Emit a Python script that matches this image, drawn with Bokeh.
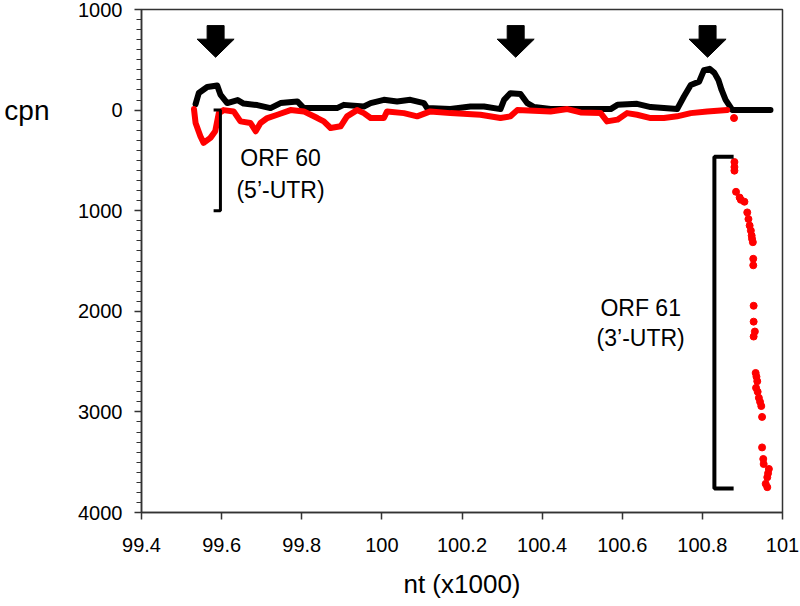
from bokeh.plotting import figure
from bokeh.models import Range1d, FixedTicker, CustomJSTickFormatter, LinearAxis
from bokeh.embed import file_html
from bokeh.resources import INLINE

# ---------------- data (nt in thousands, cpn; plotted axis is inverted:
# plus-strand coverage is stored negative so it rises above 0) ------------
black_x = [99.535, 99.543, 99.564, 99.589, 99.597, 99.614, 99.640, 99.655,
           99.689, 99.722, 99.747, 99.789, 99.805, 99.888, 99.905, 99.955,
           99.972, 100.005, 100.038, 100.071, 100.105, 100.113, 100.171,
           100.221, 100.255, 100.296, 100.305, 100.321, 100.346, 100.363,
           100.380, 100.421, 100.571, 100.588, 100.637, 100.671, 100.737,
           100.754, 100.771, 100.792, 100.804, 100.818, 100.830, 100.840,
           100.848, 100.858, 100.875, 100.970]
black_cpn = [-60, -170, -230, -245, -155, -70, -100, -65,
             -50, -20, -70, -86, -20, -20, -52, -36,
             -69, -102, -86, -102, -69, -20, -10,
             -36, -36, -10, -102, -168, -161, -69,
             -30, -10, -10, -52, -62, -30, -10,
             -135, -250, -283, -398, -410, -370, -300,
             -200, -102, 0, 0]

red_x = [99.531, 99.535, 99.547, 99.555, 99.572, 99.584, 99.593, 99.605,
         99.630, 99.647, 99.672, 99.685, 99.697, 99.714, 99.739, 99.772,
         99.805, 99.839, 99.855, 99.872, 99.897, 99.913, 99.938, 99.955,
         99.972, 100.005, 100.013, 100.055, 100.088, 100.121, 100.171,
         100.246, 100.296, 100.321, 100.338, 100.421, 100.463, 100.496,
         100.546, 100.562, 100.588, 100.612, 100.637, 100.671, 100.704,
         100.737, 100.771, 100.812, 100.862]
red_cpn = [-10, 128, 260, 326, 276, 210, 30, 0,
           13, 112, 128, 210, 128, 79, 46, 0,
           13, 79, 112, 178, 161, 62, 0, 30,
           79, 79, 13, 30, 62, 13, 30,
           46, 79, 62, 0, 13, -10, 23,
           30, 112, 95, 30, 46, 79, 79,
           62, 30, 13, 0]

tail_x = [100.879, 100.880, 100.880, 100.880, 100.884, 100.893, 100.896,
          100.905, 100.912, 100.915, 100.918, 100.921, 100.923, 100.924,
          100.926, 100.927, 100.927, 100.928, 100.928, 100.931, 100.928,
          100.933, 100.935, 100.937, 100.934, 100.938, 100.941, 100.944,
          100.947, 100.949, 100.949, 100.952, 100.953, 100.966, 100.964,
          100.962, 100.958, 100.962]
tail_cpn = [79, 516, 566, 602, 812, 869, 892,
            911, 1017, 1083, 1148, 1198, 1247, 1280,
            1313, 1478, 1543, 1945, 2103, 2201, 2251,
            2613, 2650, 2695, 2761, 2800, 2860, 2900,
            2942, 3050, 3353, 3468, 3518, 3567, 3610,
            3650, 3715, 3748]

x_ticks = [99.4, 99.6, 99.8, 100.0, 100.2, 100.4, 100.6, 100.8, 101.0]
y_ticks = [-1000, 0, 1000, 2000, 3000, 4000]
y_minor = list(range(-1000, 4001, 100))
y_title = "cpn"
y_title_at = [0]

arrow_x = [99.585, 100.334, 100.813]

# brackets (annotation positions)
orf60_bracket_x = [99.580, 99.597, 99.597, 99.580]
orf60_bracket_y = [0, 0, 1000, 1000]
orf61_bracket_x = [100.878, 100.830, 100.830, 100.878]
orf61_bracket_y = [464, 464, 3761, 3761]

FONT = "Liberation Sans"
AX = "#333333"

p = figure(width=800, height=606, x_range=Range1d(99.4, 101.0),
           y_range=Range1d(4000, -1000), output_backend="svg",
           toolbar_location=None, min_border_left=141, min_border_right=18,
           min_border_top=9, min_border_bottom=94)
p.background_fill_color = "white"
p.border_fill_color = "white"
p.xgrid.visible = False
p.ygrid.visible = False
p.outline_line_color = AX
p.outline_line_width = 1.5

# axes
xa = p.xaxis[0]
xa.ticker = FixedTicker(ticks=x_ticks)
xa.formatter = CustomJSTickFormatter(code="return (Math.round(tick*10)/10).toString();")
xa.axis_label = "nt (x1000)"
xa.axis_label_text_font = FONT
xa.axis_label_text_font_size = "26px"
xa.axis_label_text_font_style = "normal"
xa.axis_label_text_color = "black"
xa.axis_label_standoff = 14
xa.major_label_text_font = FONT
xa.major_label_text_font_size = "20px"
xa.major_label_text_color = "black"
xa.major_label_standoff = 18
xa.major_tick_out = 7
xa.major_tick_in = 0
xa.minor_tick_out = 0
xa.minor_tick_in = 0
xa.axis_line_color = AX
xa.axis_line_width = 1.5
xa.major_tick_line_color = AX
xa.major_tick_line_width = 1.5

ya = p.yaxis[0]
ya.ticker = FixedTicker(ticks=y_ticks, minor_ticks=y_minor)
ya.formatter = CustomJSTickFormatter(code="return Math.abs(tick).toString();")
ya.major_label_text_font = FONT
ya.major_label_text_font_size = "20px"
ya.major_label_text_color = "black"
ya.major_label_standoff = 12
ya.major_tick_out = 7
ya.major_tick_in = 0
ya.minor_tick_out = 5
ya.minor_tick_in = 0
ya.axis_line_color = AX
ya.axis_line_width = 1.5
ya.major_tick_line_color = AX
ya.major_tick_line_width = 1.5
ya.minor_tick_line_color = AX
ya.minor_tick_line_width = 1.2

# "cpn" title placed level with 0, to the left of the tick labels
title_axis = LinearAxis(ticker=FixedTicker(ticks=y_title_at),
                        formatter=CustomJSTickFormatter(
                            args=dict(t=y_title), code="return t;"))
title_axis.axis_line_color = None
title_axis.major_tick_line_color = None
title_axis.minor_tick_line_color = None
title_axis.major_tick_out = 0
title_axis.minor_tick_out = 0
title_axis.major_label_standoff = 26
title_axis.major_label_text_font = FONT
title_axis.major_label_text_font_size = "28px"
title_axis.major_label_text_color = "black"
p.add_layout(title_axis, "left")

# data
p.line(black_x, black_cpn, line_color="black", line_width=6,
       line_join="round", line_cap="round")
p.line(red_x, red_cpn, line_color="#ff0000", line_width=6,
       line_join="round", line_cap="round")
p.scatter(tail_x, tail_cpn, size=7, fill_color="#ff0000",
          line_color="#ff0000")

# arrows (thick down arrows above peaks)
stem_hw, head_hw = 0.0212, 0.0462
y_top, y_mid, y_tip = -840, -705, -525
axs, ays = [], []
for ax in arrow_x:
    axs.append([ax - stem_hw, ax + stem_hw, ax + stem_hw, ax + head_hw,
                ax, ax - head_hw, ax - stem_hw])
    ays.append([y_top, y_top, y_mid, y_mid, y_tip, y_mid, y_mid])
p.patches(axs, ays, fill_color="black", line_color="black")

# brackets
p.line(orf60_bracket_x, orf60_bracket_y, line_color="black", line_width=3)
p.line(orf61_bracket_x, orf61_bracket_y, line_color="black", line_width=4)

# text annotations
p.text(x=[99.747, 99.747, 100.646, 100.646],
       y=[474, 790, 1969, 2270],
       text=["ORF 60", "(5\u2019-UTR)", "ORF 61", "(3\u2019-UTR)"],
       text_font_size="23px", text_align="center", text_baseline="middle",
       text_color="black", text_font={"value": FONT})

open("out.html", "w").write(file_html(p, INLINE))
